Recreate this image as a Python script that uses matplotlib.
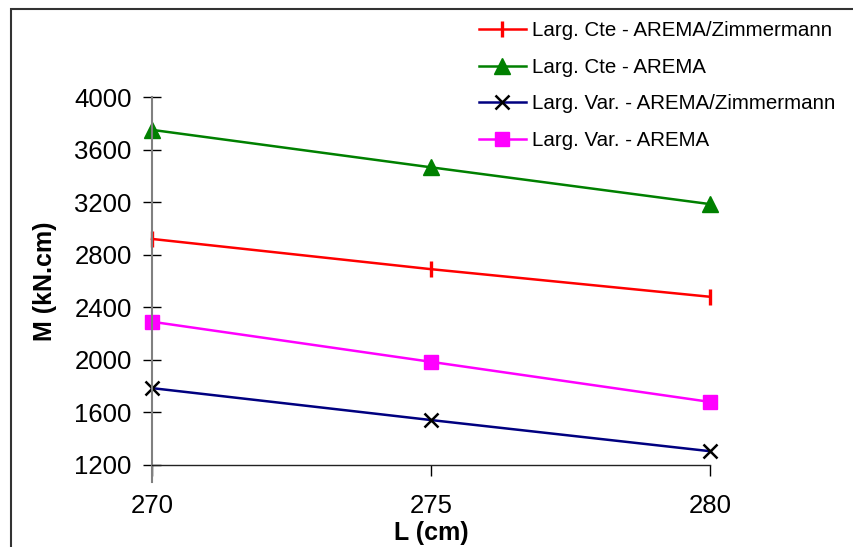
import matplotlib
matplotlib.use("Agg")
import matplotlib.pyplot as plt
from matplotlib.patches import Rectangle

plt.rcParams['font.family'] = ['Liberation Sans', 'DejaVu Sans']

L = [270, 275, 280]
cte_zim = [2920, 2690, 2480]
cte_arema = [3750, 3465, 3185]
var_zim = [1785, 1542, 1305]
var_arema = [2290, 1985, 1680]
labels = ["Larg. Cte - AREMA/Zimmermann", "Larg. Cte - AREMA",
          "Larg. Var. - AREMA/Zimmermann", "Larg. Var. - AREMA"]
yticks = [1200, 1600, 2000, 2400, 2800, 3200, 3600, 4000]
xticks = [270, 275, 280]

fig = plt.figure(figsize=(8.54, 5.47), dpi=100)
ax = fig.add_axes([152/854, 1-465/547, (710-152)/854, (465-97)/547])

l1, = ax.plot(L, cte_zim, color='#ff0000', lw=1.8, marker='|', ms=12, mew=2.4, clip_on=False)
l2, = ax.plot(L, cte_arema, color='#008000', lw=1.8, marker='^', ms=11, clip_on=False)
l3, = ax.plot(L, var_zim, color='#000080', lw=1.8, marker='x', ms=10, mew=1.8,
              mec='black', clip_on=False)
l4, = ax.plot(L, var_arema, color='#ff00ff', lw=1.8, marker='s', ms=10.5, clip_on=False)

ax.set_xlim(270, 280)
ax.set_ylim(1200, 4000)
ax.set_xticks(xticks)
ax.set_yticks(yticks)
for s in ['top', 'right']:
    ax.spines[s].set_visible(False)
ax.spines['left'].set_color('#808080')
ax.spines['left'].set_linewidth(1.5)
ax.spines['left'].set_bounds(1200 - 130, 4000)
ax.spines['bottom'].set_color('#222222')
ax.spines['bottom'].set_linewidth(1.0)
ax.tick_params(axis='y', direction='inout', length=13, width=1.0, color='black',
               labelsize=18.5, pad=8)
ax.tick_params(axis='x', direction='out', length=8, width=1.0, color='black',
               labelsize=18.5, pad=13)
ax.set_xlabel('L (cm)', fontsize=18, fontweight='bold', labelpad=2)
ax.set_ylabel('M (kN.cm)', fontsize=18, fontweight='bold')
ax.yaxis.set_label_coords((57-152)/(710-152), 0.5)

leg = fig.legend([l1, l2, l3, l4], labels, loc='upper left',
                 bbox_to_anchor=(460/854, 1-3/547), frameon=False,
                 fontsize=14.8, handlelength=2.3, handletextpad=0.3,
                 labelspacing=0.85)

fig.patches.append(Rectangle((11/854, -0.05), 1.0, 1-9/547+0.05,
                             transform=fig.transFigure, fill=False,
                             edgecolor='#333333', lw=1.5))
fig.savefig('out.png', dpi=100)
